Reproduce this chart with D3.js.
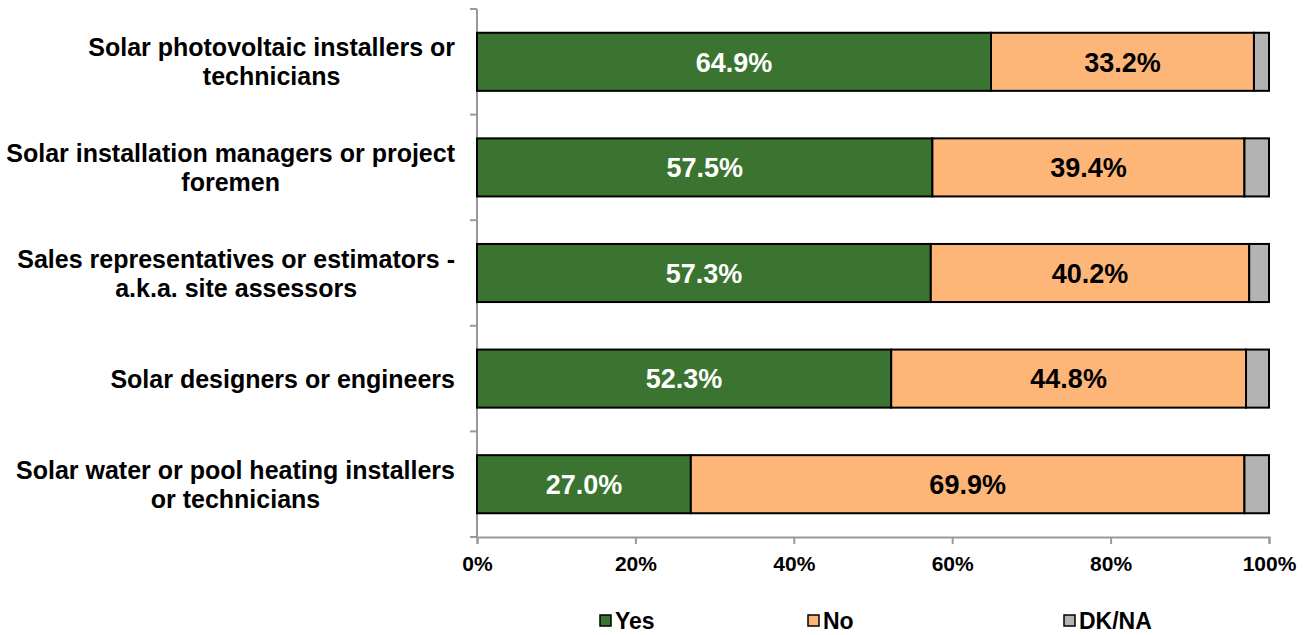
<!DOCTYPE html>
<html>
<head>
<meta charset="utf-8">
<script src="https://cdn.jsdelivr.net/npm/d3@7"></script>
<style>
  body { margin: 0; background: #fff; }
  text { font-family: "Liberation Sans", Arial, sans-serif; font-weight: bold; }
</style>
</head>
<body>
<div id="chart"></div>
<script>
  /**
   * DATA
   * */
  const categories = [
    ["Solar photovoltaic installers or", "technicians"],
    ["Solar installation managers or project", "foremen"],
    ["Sales representatives or estimators -", "a.k.a. site assessors"],
    ["Solar designers or engineers"],
    ["Solar water or pool heating installers", "or technicians"]
  ];
  const seriesNames = ["Yes", "No", "DK/NA"];
  const yesValues = [64.9, 57.5, 57.3, 52.3, 27.0];
  const noValues = [33.2, 39.4, 40.2, 44.8, 69.9];
  const dkValues = [1.9, 3.1, 2.5, 2.9, 3.1];
  const xTicks = [0, 20, 40, 60, 80, 100];

  const colors = ["#3a7430", "#fdb677", "#b3b3b3"];

  const width = 1308, height = 635;
  const margin = { top: 9, left: 477, right: 39, bottom: 98 };

  const svg = d3.select("#chart")
    .append("svg")
    .attr("width", width)
    .attr("height", height);

  const xScale = d3.scaleLinear()
    .domain([0, 100])
    .range([margin.left, width - margin.right]);

  const yScale = d3.scaleBand()
    .domain(d3.range(categories.length))
    .range([margin.top, height - margin.bottom])
    .paddingInner(0.45)
    .paddingOuter(0.225);

  const rows = categories.map((c, i) => ({
    i,
    vals: [yesValues[i], noValues[i], dkValues[i]]
  }));

  // axes
  const axisColor = "#999";
  const y0 = margin.top, y1 = height - margin.bottom;

  // y axis line + ticks at category boundaries
  svg.append("line")
    .attr("x1", margin.left).attr("x2", margin.left)
    .attr("y1", y0).attr("y2", y1)
    .attr("stroke", axisColor).attr("stroke-width", 2);
  svg.selectAll("line.ytick")
    .data(d3.range(categories.length + 1))
    .join("line")
    .attr("class", "ytick")
    .attr("x1", margin.left - 7).attr("x2", margin.left)
    .attr("y1", d => y0 + (y1 - y0) * d / categories.length)
    .attr("y2", d => y0 + (y1 - y0) * d / categories.length)
    .attr("stroke", axisColor).attr("stroke-width", 2);

  const xAxis = d3.axisBottom(xScale)
    .tickValues(xTicks)
    .tickSize(7)
    .tickPadding(12)
    .tickFormat(d => d + "%");

  const gx = svg.append("g")
    .attr("class", "x-axis")
    .attr("transform", `translate(0, ${y1})`)
    .call(xAxis);
  gx.select(".domain").attr("stroke", axisColor).attr("stroke-width", 2);
  gx.selectAll(".tick line").attr("stroke", axisColor).attr("stroke-width", 2);
  gx.selectAll(".tick text")
    .attr("fill", "#000")
    .style("font-size", "21px")
    .style("font-family", "'Liberation Sans', Arial, sans-serif")
    .style("font-weight", "bold");

  // bars
  const rowG = svg.selectAll("g.row")
    .data(rows)
    .join("g")
    .attr("class", "row")
    .attr("transform", d => `translate(0, ${yScale(d.i)})`);

  rowG.each(function(d) {
    const g = d3.select(this);
    let acc = 0;
    d.vals.forEach((v, k) => {
      const start = acc;
      acc += v;
      g.append("rect")
        .attr("x", xScale(start))
        .attr("y", 0)
        .attr("width", xScale(acc) - xScale(start))
        .attr("height", yScale.bandwidth())
        .attr("fill", colors[k])
        .attr("stroke", "#000")
        .attr("stroke-width", 2);
      if (k < 2) {
        g.append("text")
          .attr("x", (xScale(start) + xScale(acc)) / 2)
          .attr("y", yScale.bandwidth() / 2)
          .attr("dy", "0.36em")
          .attr("text-anchor", "middle")
          .attr("fill", k === 0 ? "#fff" : "#000")
          .style("font-size", "27px")
          .text(v.toFixed(1) + "%");
      }
    });
  });

  // category labels, centred lines in a block right-aligned to the axis
  const labelRight = 455, lineH = 29;
  categories.forEach((lines, i) => {
    const cy = yScale(i) + yScale.bandwidth() / 2;
    const t = svg.append("text")
      .attr("text-anchor", "middle")
      .style("font-size", "25px");
    const spans = lines.map((l, j) => t.append("tspan")
      .attr("y", cy + (j - (lines.length - 1) / 2) * lineH)
      .attr("dy", "0.36em")
      .text(l));
    const w = d3.max(spans, s => s.node().getComputedTextLength());
    spans.forEach(s => s.attr("x", labelRight - w / 2));
  });

  // legend
  const legendX = [600, 808, 1064];
  const legend = svg.selectAll("g.legend")
    .data(seriesNames)
    .join("g")
    .attr("class", "legend")
    .attr("transform", (d, i) => `translate(${legendX[i]}, 621)`);
  legend.append("rect")
    .attr("x", 0).attr("y", -6)
    .attr("width", 11).attr("height", 11)
    .attr("fill", (d, i) => colors[i])
    .attr("stroke", "#000").attr("stroke-width", 1.5);
  legend.append("text")
    .attr("x", 15)
    .attr("dy", "0.36em")
    .style("font-size", "23px")
    .text(d => d);
</script>
</body>
</html>
